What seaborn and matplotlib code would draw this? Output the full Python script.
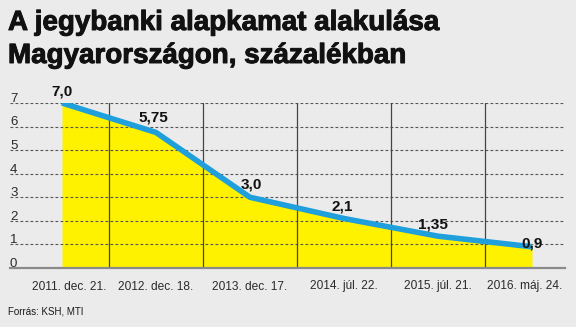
import matplotlib
matplotlib.use("Agg")
import matplotlib.pyplot as plt
import matplotlib.transforms as mtransforms
import matplotlib.patheffects as pe
import seaborn as sns
import pandas as pd
from matplotlib import font_manager

# ---- data ----
dates = ["2011. dec. 21.", "2012. dec. 18.", "2013. dec. 17.",
         "2014. júl. 22.", "2015. júl. 21.", "2016. máj. 24."]
rates = [7.0, 5.75, 3.0, 2.1, 1.35, 0.9]
rate_labels = ["7,0", "5,75", "3,0", "2,1", "1,35", "0,9"]
y_ticks = [0, 1, 2, 3, 4, 5, 6, 7]
title_lines = ["A jegybanki alapkamat alakulása", "Magyarországon, százalékban"]
source = "Forrás: KSH, MTI"

BG = "#ecebeb"
YELLOW = "#fff200"
BLUE = "#1f9fdb"

sns.set_style("white")
names = {f.name for f in font_manager.fontManager.ttflist}
narrow = "Liberation Sans Narrow" if "Liberation Sans Narrow" in names else "Liberation Sans"
plt.rcParams["font.family"] = ["Liberation Sans", "DejaVu Sans"]

df = pd.DataFrame({"pos": range(len(dates)), "rate": rates})

fig = plt.figure(figsize=(5.76, 3.27), dpi=100, facecolor=BG)
ax = fig.add_axes([10/576, (327-268)/327, (565-10)/576, (268-103)/327])
ax.set_facecolor(BG)

ax.fill_between(df["pos"], 0, df["rate"], color=YELLOW, lw=0, zorder=1)

for v in y_ticks[1:]:
    ax.axhline(v, color="#555555", lw=0.8, ls=(0, (2.5, 2)), zorder=2)
for i in range(len(dates) - 1):
    ax.axvline(i + 0.5, ymin=0, ymax=1, color="#444444", lw=0.9, zorder=2)

sns.lineplot(data=df, x="pos", y="rate", ax=ax, color=BLUE, lw=4,
             solid_joinstyle="round", solid_capstyle="butt", zorder=4)

ax.set_xlim(-0.553, 5.351)
ax.set_ylim(0, 7)
ax.set_xticks(range(len(dates)))
ax.set_xticklabels(dates, fontsize=8.6, color="#2a2a2a")
ax.tick_params(axis="x", length=0, pad=9)
# nudge the outer tick labels inward as in the reference
tick_labels = ax.get_xticklabels()
tick_labels[0].set_transform(tick_labels[0].get_transform() +
                             mtransforms.ScaledTranslation(7/100, 0, fig.dpi_scale_trans))
tick_labels[-1].set_transform(tick_labels[-1].get_transform() +
                              mtransforms.ScaledTranslation(-7/100, 0, fig.dpi_scale_trans))
ax.set_yticks([])
ax.set_xlabel("")
ax.set_ylabel("")
for s in ["top", "right", "left"]:
    ax.spines[s].set_visible(False)
ax.spines["bottom"].set_color("#8a8a8a")
ax.spines["bottom"].set_linewidth(1.6)
ax.spines["bottom"].set_zorder(5)

trans = mtransforms.blended_transform_factory(ax.transAxes, ax.transData)
for v in y_ticks:
    ax.text(0.0, v + 0.05, str(v), transform=trans, ha="left", va="baseline",
            fontsize=9.5, color="#2a2a2a", family=[narrow, "DejaVu Sans"])

offsets = [(0.0, 0.49), (-0.03, 0.63), (0.01, 0.53),
           (-0.02, 0.50), (-0.05, 0.48), (0.0, 0.16)]
for i, (lab, (dx, dy)) in enumerate(zip(rate_labels, offsets)):
    ax.text(i + dx, rates[i] + dy, lab, ha="center", va="center", fontsize=11,
            fontweight="bold", color="#111111", zorder=6)

heavy = [pe.withStroke(linewidth=0.7, foreground="#111111")]
fig.text(8/576, 1 - 30/327, title_lines[0], fontsize=20, fontweight="bold",
         color="#111111", va="baseline", ha="left", family=[narrow, "DejaVu Sans"],
         path_effects=heavy)
fig.text(8/576, 1 - 63/327, title_lines[1], fontsize=20, fontweight="bold",
         color="#111111", va="baseline", ha="left", family=[narrow, "DejaVu Sans"],
         path_effects=heavy)
fig.text(8/576, 1 - 315/327, source, fontsize=7, color="#1a1a1a",
         va="baseline", ha="left", family=[narrow, "DejaVu Sans"])

fig.savefig("out.png", dpi=100, facecolor=BG)
